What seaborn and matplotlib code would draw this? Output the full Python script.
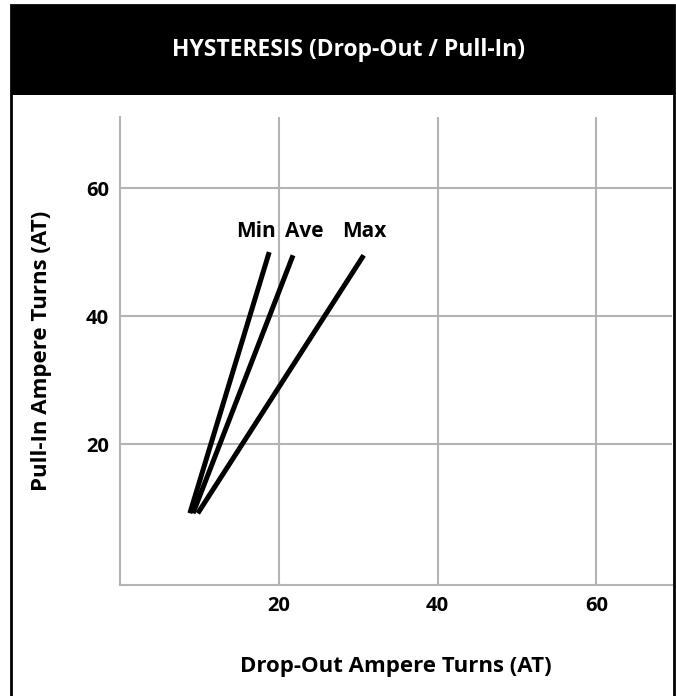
import numpy as np
import pandas as pd
import seaborn as sns
import matplotlib.pyplot as plt
from matplotlib.patches import Rectangle

# data
series_names = ['Min', 'Ave', 'Max']
drop_out_start = [8.8, 9.2, 9.8]
drop_out_end = [18.8, 21.8, 30.7]
pull_in_start = [9.2, 9.2, 9.2]
pull_in_end = [50.0, 49.5, 49.5]
label_x = [17.1, 23.2, 30.8]
label_y = [53.2, 53.2, 53.2]
x_ticks = [20, 40, 60]
y_ticks = [20, 40, 60]

rows = []
for i, name in enumerate(series_names):
    rows.append({'drop': drop_out_start[i], 'pull': pull_in_start[i], 'series': name})
    rows.append({'drop': drop_out_end[i], 'pull': pull_in_end[i], 'series': name})
df = pd.DataFrame(rows)

sns.set_style('white')
plt.rcParams['font.family'] = ['Open Sans', 'DejaVu Sans']
plt.rcParams['text.color'] = 'black'
plt.rcParams['axes.labelcolor'] = 'black'
plt.rcParams['xtick.color'] = 'black'
plt.rcParams['ytick.color'] = 'black'

fig = plt.figure(figsize=(6.76, 6.96), dpi=100)
ax = fig.add_axes([0.1775, 0.1595, 0.8173, 0.6724])

sns.lineplot(data=df, x='drop', y='pull', hue='series', units='series', estimator=None,
             palette=['black'] * 3, linewidth=3.6, legend=False, ax=ax, sort=False,
             solid_capstyle='butt')

for name, lx, ly in zip(series_names, label_x, label_y):
    ax.text(lx, ly, name, ha='center', va='center', fontsize=15, fontweight='bold')

ax.set_xlim(0, 69.6)
ax.set_ylim(-2, 71.1)
ax.set_xticks(x_ticks)
ax.set_yticks(y_ticks)
ax.grid(True, color='#b4b4b4', linewidth=1.5)
ax.set_axisbelow(True)
for s in ['top', 'right']:
    ax.spines[s].set_visible(False)
for s in ['left', 'bottom']:
    ax.spines[s].set_color('#b4b4b4')
    ax.spines[s].set_linewidth(1.5)
ax.tick_params(length=0, pad=8, labelsize=14.5)
for lab in ax.get_xticklabels() + ax.get_yticklabels():
    lab.set_fontweight('bold')
ax.set_xlabel('Drop-Out Ampere Turns (AT)', fontsize=16, fontweight='bold', labelpad=29)
ax.set_ylabel('Pull-In Ampere Turns (AT)', fontsize=16, fontweight='bold', labelpad=24)

# black title band and frame
fig.patches.append(Rectangle((11 / 676, 1 - 95 / 696), 663 / 676, 90 / 696,
                             transform=fig.transFigure, facecolor='black', edgecolor='none'))
fig.patches.append(Rectangle((11 / 676, -0.05), 663 / 676, 1 - 5 / 696 + 0.05,
                             transform=fig.transFigure, facecolor='none', edgecolor='black',
                             linewidth=2))
fig.text(348 / 676, 1 - 50 / 696, 'HYSTERESIS (Drop-Out / Pull-In)', color='white',
         ha='center', va='center', fontsize=16.5, fontweight='bold')

fig.savefig('out.png', dpi=100)
